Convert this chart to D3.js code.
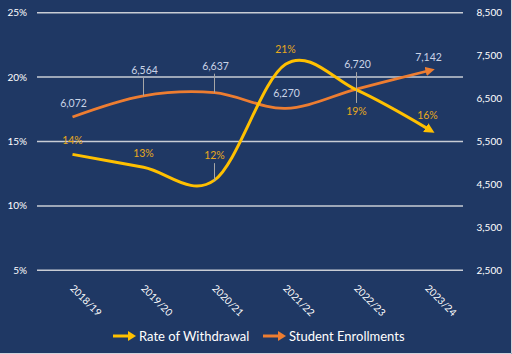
<!DOCTYPE html>
<html>
<head>
<meta charset="utf-8">
<script src="https://cdn.jsdelivr.net/npm/d3@7"></script>
<style>
  body { margin: 0; background: #ffffff; }
  svg text { font-family: Lato, "Open Sans", sans-serif; }
</style>
</head>
<body>
<div id="chart"></div>
<script>
// Chart data
const years = ["2018/19", "2019/20", "2020/21", "2021/22", "2022/23", "2023/24"];
const withdrawal = [14, 13, 12, 21, 19, 16];          // percent
const enrollments = [6072, 6564, 6637, 6270, 6720, 7142];
const leftTicks = [5, 10, 15, 20, 25];
const rightTicks = [2500, 3500, 4500, 5500, 6500, 7500, 8500];

// label placement (offsets from the point, in px) and leader lines
const enrollLabelDy = [-10, -22, -23, -11, -21, -10];
const enrollLeader = [false, true, true, false, true, false];
const withdrawLabelDy = [-10, -10, -21, -11, 25, -10];
const withdrawLeader = [false, false, true, false, true, false];

const width = 512;
const height = 354;
const bg = "#1f3864";
const yellow = "#ffc000";
const orange = "#ed7d31";

const svg = d3.select("#chart")
    .append("svg")
    .attr("width", width)
    .attr("height", height);

svg.append("rect")
    .attr("width", width).attr("height", height)
    .attr("fill", bg);

// thin light edge on the right and bottom
svg.append("path")
    .attr("d", `M${width - 0.5},0 V${height - 0.5} H0`)
    .attr("fill", "none")
    .attr("stroke", "#d0d4dc");

const x = d3.scaleBand()
    .domain(years)
    .range([37, 463]);

const yLeft = d3.scaleLinear()
    .domain([5, 25])
    .range([270.3, 12.7]);

const yRight = d3.scaleLinear()
    .domain([2500, 8500])
    .range([270.3, 12.7]);

const cx = d => x(d) + x.bandwidth() / 2;

// gridlines
svg.append("g")
  .selectAll("line")
  .data(leftTicks)
  .enter().append("line")
    .attr("x1", 37).attr("x2", 463)
    .attr("y1", d => yLeft(d)).attr("y2", d => yLeft(d))
    .attr("stroke", "#c8ccd4")
    .attr("stroke-width", 1.5);

// left axis labels
svg.append("g")
  .selectAll("text")
  .data(leftTicks)
  .enter().append("text")
    .attr("x", 27)
    .attr("y", d => yLeft(d) + 3.5)
    .attr("text-anchor", "end")
    .attr("font-size", 10)
    .attr("fill", "#ffffff")
    .text(d => d + "%");

// right axis labels
svg.append("g")
  .selectAll("text")
  .data(rightTicks)
  .enter().append("text")
    .attr("x", 502)
    .attr("y", d => yRight(d) + 3.5)
    .attr("text-anchor", "end")
    .attr("font-size", 10)
    .attr("fill", "#ffffff")
    .text(d => d3.format(",")(d));

// category labels, rotated
svg.append("g")
  .selectAll("text")
  .data(years)
  .enter().append("text")
    .attr("transform", d => `translate(${cx(d) - 3},289) rotate(45)`)
    .attr("font-size", 10)
    .attr("fill", "#ffffff")
    .text(d => d);

// arrow markers
const defs = svg.append("defs");
[["arrowY", yellow], ["arrowO", orange]].forEach(([id, c]) => {
  defs.append("marker")
      .attr("id", id)
      .attr("viewBox", "0 0 10 10")
      .attr("refX", 2).attr("refY", 5)
      .attr("markerWidth", 3.4).attr("markerHeight", 3.4)
      .attr("markerUnits", "strokeWidth")
      .attr("orient", "auto")
    .append("path")
      .attr("d", "M0,0 L10,5 L0,10 Z")
      .attr("fill", c);
});

const curve = d3.curveCatmullRom.alpha(0);

// enrollments line
const enrollLine = d3.line()
    .x((d, i) => cx(years[i]))
    .y(d => yRight(d))
    .curve(curve);

svg.append("path")
    .datum(enrollments)
    .attr("d", enrollLine)
    .attr("fill", "none")
    .attr("stroke", orange)
    .attr("stroke-width", 2.75)
    .attr("marker-end", "url(#arrowO)");

// withdrawal line
const withdrawLine = d3.line()
    .x((d, i) => cx(years[i]))
    .y(d => yLeft(d))
    .curve(curve);

svg.append("path")
    .datum(withdrawal)
    .attr("d", withdrawLine)
    .attr("fill", "none")
    .attr("stroke", yellow)
    .attr("stroke-width", 3)
    .attr("marker-end", "url(#arrowY)");

// leader lines
const leaders = svg.append("g")
    .attr("stroke", "#a6a6a6")
    .attr("stroke-width", 1);

enrollments.forEach((v, i) => {
  if (!enrollLeader[i]) return;
  const py = yRight(v);
  leaders.append("line")
      .attr("x1", cx(years[i])).attr("x2", cx(years[i]))
      .attr("y1", py + enrollLabelDy[i] + 4).attr("y2", py);
});

withdrawal.forEach((v, i) => {
  if (!withdrawLeader[i]) return;
  const py = yLeft(v);
  const dy = withdrawLabelDy[i];
  leaders.append("line")
      .attr("x1", cx(years[i])).attr("x2", cx(years[i]))
      .attr("y1", dy > 0 ? py + dy - 12 : py + dy + 4)
      .attr("y2", i === 2 ? py + 1 : py);
});

// data labels
svg.append("g")
  .selectAll("text")
  .data(enrollments)
  .enter().append("text")
    .attr("x", (d, i) => cx(years[i]) + 1)
    .attr("y", (d, i) => yRight(d) + enrollLabelDy[i])
    .attr("text-anchor", "middle")
    .attr("font-size", 10.5)
    .attr("fill", "#c9d3e6")
    .text(d => d3.format(",")(d));

svg.append("g")
  .selectAll("text")
  .data(withdrawal)
  .enter().append("text")
    .attr("x", (d, i) => cx(years[i]))
    .attr("y", (d, i) => yLeft(d) + withdrawLabelDy[i])
    .attr("text-anchor", "middle")
    .attr("font-size", 10.5)
    .attr("fill", "#e8a91c")
    .text(d => d + "%");

// legend
const legendItems = [
  { name: "Rate of Withdrawal", color: yellow, x: 113 },
  { name: "Student Enrollments", color: orange, x: 263 }
];

const legend = svg.append("g")
  .selectAll("g")
  .data(legendItems)
  .enter().append("g")
    .attr("transform", d => `translate(${d.x},336)`);

legend.append("line")
    .attr("x1", 0).attr("x2", 16)
    .attr("y1", 0).attr("y2", 0)
    .attr("stroke", d => d.color)
    .attr("stroke-width", 3);

legend.append("path")
    .attr("d", "M15,-5 L23,0 L15,5 Z")
    .attr("fill", d => d.color);

legend.append("text")
    .attr("x", 26)
    .attr("y", 4.5)
    .attr("font-size", 13)
    .attr("fill", "#ffffff")
    .text(d => d.name);
</script>
</body>
</html>
